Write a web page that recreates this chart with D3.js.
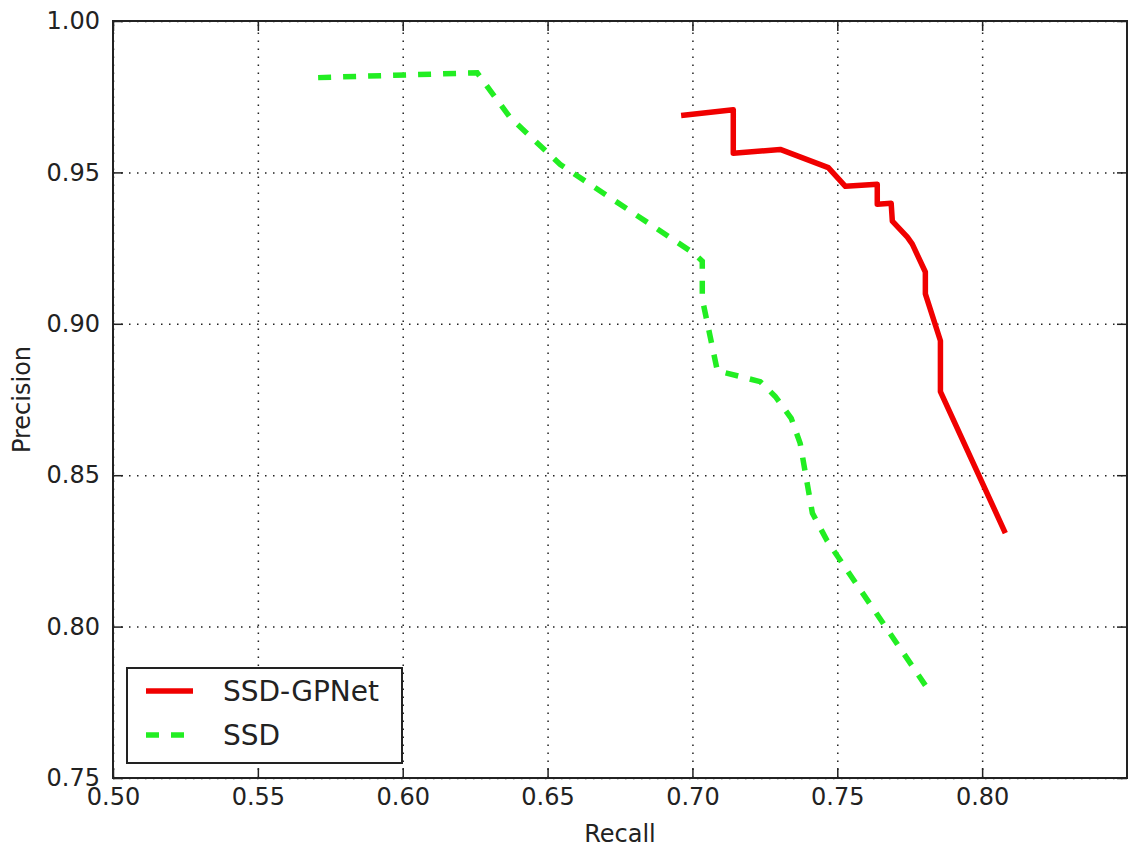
<!DOCTYPE html>
<html>
<head>
<meta charset="utf-8">
<script src="https://cdn.jsdelivr.net/npm/d3@7"></script>
<style>
  body { margin: 0; background: #fff; }
  text { font-family: "DejaVu Sans", sans-serif; fill: #222; }
  .grid line { stroke: #222; stroke-width: 1.5; stroke-dasharray: 1.5,6.5; }
  .grid .domain { display: none; }
  .axis .domain { display: none; }
  .axis line { stroke: #222; stroke-width: 1.5; }
</style>
</head>
<body>
<svg id="chart" width="1132" height="847"></svg>
<script>
// data
var gpnetRecall    = [0.6961, 0.7141, 0.7141, 0.7303, 0.7469, 0.7528, 0.7638, 0.7638, 0.7686, 0.7690, 0.7742, 0.7759, 0.7804, 0.7804, 0.7856, 0.7856, 0.8080];
var gpnetPrecision = [0.9688, 0.9707, 0.9563, 0.9576, 0.9516, 0.9454, 0.9461, 0.9395, 0.9398, 0.9339, 0.9286, 0.9263, 0.9171, 0.9099, 0.8944, 0.8776, 0.8309];

var ssdRecall    = [0.5708, 0.6257, 0.6371, 0.6544, 0.7003, 0.7034, 0.7034, 0.7086, 0.7234, 0.7286, 0.7341, 0.7372, 0.7414, 0.7465, 0.7804];
var ssdPrecision = [0.9813, 0.9829, 0.9681, 0.9526, 0.9234, 0.9207, 0.9082, 0.8845, 0.8809, 0.8760, 0.8688, 0.8605, 0.8375, 0.8283, 0.7806];

var xTicks = [0.50, 0.55, 0.60, 0.65, 0.70, 0.75, 0.80];
var yTicks = [0.75, 0.80, 0.85, 0.90, 0.95, 1.00];
var seriesNames = ["SSD-GPNet", "SSD"];

var margin = {top: 21, right: 5, bottom: 69, left: 113},
    width = 1132 - margin.left - margin.right,
    height = 847 - margin.top - margin.bottom;

var svg = d3.select("#chart")
    .append("g")
    .attr("transform", "translate(" + margin.left + "," + margin.top + ")");

var x = d3.scaleLinear().domain([0.5, 0.85]).range([0, width]);
var y = d3.scaleLinear().domain([0.75, 1.0]).range([height, 0]);

// grid
svg.append("g")
    .attr("class", "grid")
    .attr("transform", "translate(0," + height + ")")
    .call(d3.axisBottom(x).tickValues(xTicks).tickSize(-height).tickFormat(""));

svg.append("g")
    .attr("class", "grid")
    .call(d3.axisLeft(y).tickValues(yTicks).tickSize(-width).tickFormat(""));

// axes, ticks pointing inside
svg.append("g")
    .attr("class", "axis")
    .attr("transform", "translate(0," + height + ")")
    .call(d3.axisBottom(x).tickValues(xTicks).tickSizeInner(-10).tickSizeOuter(0).tickPadding(10).tickFormat(d3.format(".2f")))
    .selectAll("text").style("font-size", "24px").style("font-family", "DejaVu Sans");

svg.append("g")
    .attr("class", "axis")
    .call(d3.axisLeft(y).tickValues(yTicks).tickSizeInner(-10).tickSizeOuter(0).tickPadding(13).tickFormat(d3.format(".2f")))
    .selectAll("text").style("font-size", "24px").style("font-family", "DejaVu Sans");

svg.append("g")
    .attr("class", "axis")
    .call(d3.axisTop(x).tickValues(xTicks).tickSizeInner(-10).tickSizeOuter(0).tickFormat(""));

svg.append("g")
    .attr("class", "axis")
    .attr("transform", "translate(" + width + ",0)")
    .call(d3.axisRight(y).tickValues(yTicks).tickSizeInner(-10).tickSizeOuter(0).tickFormat(""));

// lines
var line = d3.line()
    .x(function(d) { return x(d[0]); })
    .y(function(d) { return y(d[1]); });

var ssdData = ssdRecall.map(function(r, i) { return [r, ssdPrecision[i]]; });
var gpData = gpnetRecall.map(function(r, i) { return [r, gpnetPrecision[i]]; });

svg.append("path")
    .datum(ssdData)
    .attr("d", line)
    .attr("fill", "none")
    .attr("stroke", "#22ee22")
    .attr("stroke-width", 5.5)
    .attr("stroke-dasharray", "13,12");

svg.append("path")
    .datum(gpData)
    .attr("d", line)
    .attr("fill", "none")
    .attr("stroke", "#f00000")
    .attr("stroke-width", 5.5)
    .attr("stroke-linejoin", "round");

// frame
svg.append("rect")
    .attr("width", width)
    .attr("height", height)
    .attr("fill", "none")
    .attr("stroke", "#222")
    .attr("stroke-width", 2);

// axis labels
svg.append("text")
    .attr("x", width / 2)
    .attr("y", height + 64)
    .style("text-anchor", "middle")
    .style("font-size", "24px")
    .text("Recall");

svg.append("text")
    .attr("transform", "rotate(-90)")
    .attr("x", -height / 2)
    .attr("y", -83)
    .style("text-anchor", "middle")
    .style("font-size", "24px")
    .text("Precision");

// legend
var legend = svg.append("g")
    .attr("transform", "translate(14," + (height - 110) + ")");

legend.append("rect")
    .attr("width", 275)
    .attr("height", 95)
    .attr("fill", "#fff")
    .attr("stroke", "#222")
    .attr("stroke-width", 2);

var legendStyles = [
    {color: "#f00000", dash: null},
    {color: "#22ee22", dash: "13,12"}
];

seriesNames.forEach(function(name, i) {
    var ly = 23 + i * 44;
    legend.append("line")
        .attr("x1", 19).attr("x2", 66)
        .attr("y1", ly).attr("y2", ly)
        .attr("stroke", legendStyles[i].color)
        .attr("stroke-width", 5.5)
        .attr("stroke-dasharray", legendStyles[i].dash);
    legend.append("text")
        .attr("x", 96)
        .attr("y", ly)
        .attr("dy", "0.36em")
        .style("font-size", "28px")
        .text(name);
});
</script>
</body>
</html>
